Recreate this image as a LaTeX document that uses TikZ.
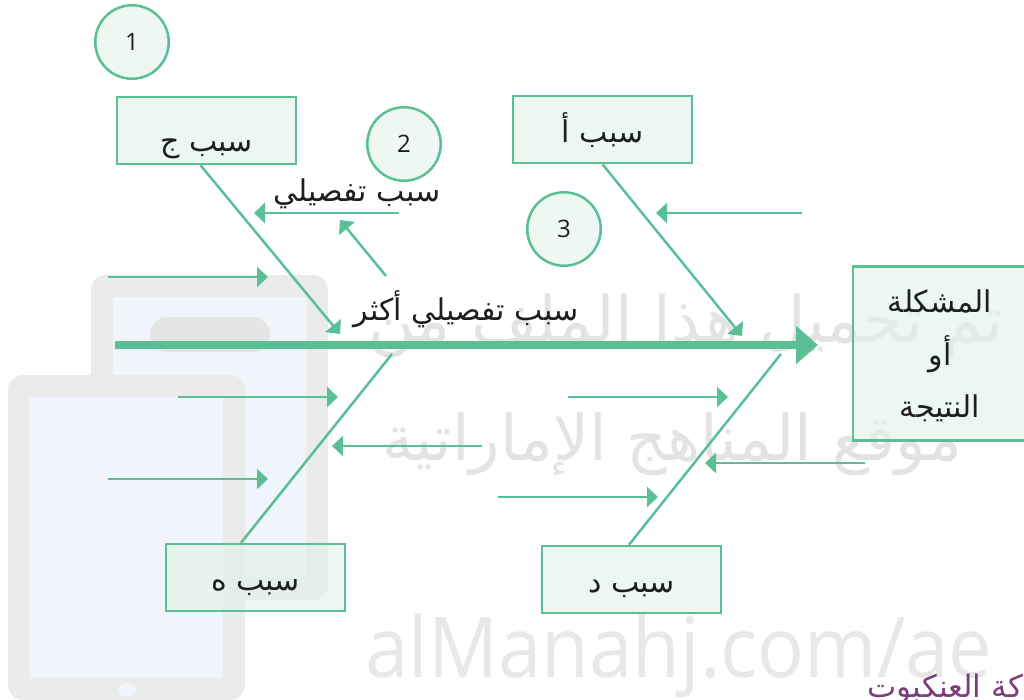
\documentclass[tikz,border=0pt]{standalone}
\usepackage{fontspec}
\setmainfont{Open Sans}
\newfontfamily\arabicfont[Script=Arabic]{DejaVu Sans}
\TeXXeTstate=1
\usetikzlibrary{arrows.meta}
\definecolor{fgreen}{RGB}{91,191,149}
\definecolor{boxfill}{RGB}{225,242,232}
\definecolor{circfill}{RGB}{238,247,241}
\definecolor{wmgray}{RGB}{235,235,235}
\definecolor{wmscreen}{RGB}{240,245,252}
\definecolor{wmpill}{RGB}{229,229,229}
\definecolor{wmtext}{RGB}{227,227,227}
\definecolor{wmlatin}{RGB}{232,232,232}
\definecolor{purp}{RGB}{122,62,122}
\definecolor{txt}{RGB}{30,30,30}
\newcommand\artxt[1]{{\arabicfont\beginR #1\endR}}
\tikzset{
  cbox/.style={draw=fgreen, line width=2.5pt, fill=boxfill, fill opacity=0.65,
    text opacity=1, text=txt, minimum width=179pt, minimum height=67pt,
    inner sep=0pt, text depth=0pt, font=\arabicfont\fontsize{30}{34}\selectfont},
  circ/.style={circle, draw=fgreen, line width=2.5pt, fill=circfill, text=txt,
    minimum size=73.5pt, inner sep=0pt, font=\fontsize{24}{28}\selectfont},
  lbl/.style={text=txt, inner sep=0pt, anchor=base, font=\arabicfont\fontsize{30}{34}\selectfont},
  arr/.style={draw=fgreen, line width=2.5pt, -{Triangle[length=11pt,width=20pt]}},
  bone/.style={draw=fgreen, line width=2.5pt},
  spine/.style={draw=fgreen, line width=8pt, -{Triangle[length=22pt,width=37pt]}},
}
\begin{document}
\begin{tikzpicture}[x=1pt,y=-1pt]
\useasboundingbox (0,0) rectangle (1024,699);
% ---------- watermark (background) ----------
\fill[wmgray, rounded corners=15pt] (91,275) rectangle (328,600);
\fill[wmscreen] (113,297) rectangle (306,577);
\fill[wmpill, rounded corners=17pt] (150,317) rectangle (270,352);
\fill[wmgray, rounded corners=15pt] (8,375) rectangle (245,700);
\fill[wmscreen] (30,397) rectangle (223,678);
\fill[wmscreen] (127,690) ellipse [x radius=9pt, y radius=7pt];
\node[text=wmtext, inner sep=0pt, anchor=base, font=\arabicfont\fontsize{64}{70}\selectfont] (wm1) at (686,342) {\artxt{تم تحميل هذا الملف من}};
\node[text=wmtext, inner sep=0pt, anchor=base, font=\arabicfont\fontsize{63}{70}\selectfont] (wm2) at (672,460) {\artxt{موقع المناهج الإماراتية}};
\node[text=wmlatin, inner sep=0pt, anchor=base, font=\fontsize{84}{90}\selectfont] (wm3) at (679,677) {\scalebox{0.925}[1]{alManahj.com/ae}};
\node[text=purp, inner sep=0pt, anchor=base east, font=\arabicfont\fontsize{31}{34}\selectfont] (wm4) at (1023,697) {\artxt{كة العنكبوت}};
% ---------- circles ----------
\node[circ] (c1) at (132,42) {1};
\node[circ] (c2) at (404,144) {2};
\node[circ] (c3) at (564,229) {3};
% ---------- cause boxes ----------
\node[cbox, text height=42pt] (bj) at (206.5,130.5) {\artxt{سبب ج}};
\node[cbox, text height=25pt] (ba) at (602.5,129.5) {\artxt{سبب أ}};
\node[cbox, text height=25pt] (bh) at (255.5,577.5) {\artxt{سبب ه}};
\node[cbox, text height=25pt] (bd) at (631.5,579.5) {\artxt{سبب د}};
% ---------- problem box ----------
\node[cbox, minimum width=177pt, minimum height=174pt] (prob) at (941.5,353.5) {};
\node[lbl] (p1) at (940,312) {\artxt{المشكلة}};
\node[lbl] (p2) at (940,365) {\artxt{أو}};
\node[lbl] (p3) at (940,417) {\artxt{النتيجة}};
% ---------- labels ----------
\node[lbl] (t1) at (357,201) {\artxt{سبب تفصيلي}};
\node[lbl] (t2) at (466,320) {\artxt{سبب تفصيلي أكثر}};
% ---------- coordinates ----------
\coordinate (s0) at (115,345);
\coordinate (s1) at (818,345);
\coordinate (jt) at (340,334);
\coordinate (at) at (742,336);
\coordinate (ht) at (392,354);
\coordinate (dt) at (781,354);
\coordinate (a1s) at (399,213); \coordinate (a1e) at (254,213);
\coordinate (a2s) at (386,276); \coordinate (a2e) at (340,220);
\coordinate (a3s) at (802,213); \coordinate (a3e) at (656,213);
\coordinate (a4s) at (108,277); \coordinate (a4e) at (268,277);
\coordinate (a5s) at (178,397); \coordinate (a5e) at (338,397);
\coordinate (a6s) at (108,479); \coordinate (a6e) at (268,479);
\coordinate (a7s) at (482,446); \coordinate (a7e) at (332,446);
\coordinate (a8s) at (568,397); \coordinate (a8e) at (728,397);
\coordinate (a9s) at (865,463); \coordinate (a9e) at (705,463);
\coordinate (a10s) at (498,497); \coordinate (a10e) at (658,497);
% ---------- bones ----------
\draw[arr] ([xshift=-6pt]bj.south) -- (jt);
\draw[arr] (ba.south) -- (at);
\draw[bone] ([xshift=-14.5pt]bh.north) -- (ht);
\draw[bone] ([xshift=-2.5pt]bd.north) -- (dt);
\draw[spine] (s0) -- (s1);
% ---------- sub-cause arrows ----------
\draw[arr] (a1s) -- (a1e);
\draw[arr] (a2s) -- (a2e);
\draw[arr] (a3s) -- (a3e);
\draw[arr] (a4s) -- (a4e);
\draw[arr] (a5s) -- (a5e);
\draw[arr] (a6s) -- (a6e);
\draw[arr] (a7s) -- (a7e);
\draw[arr] (a8s) -- (a8e);
\draw[arr] (a9s) -- (a9e);
\draw[arr] (a10s) -- (a10e);
\end{tikzpicture}
\end{document}
